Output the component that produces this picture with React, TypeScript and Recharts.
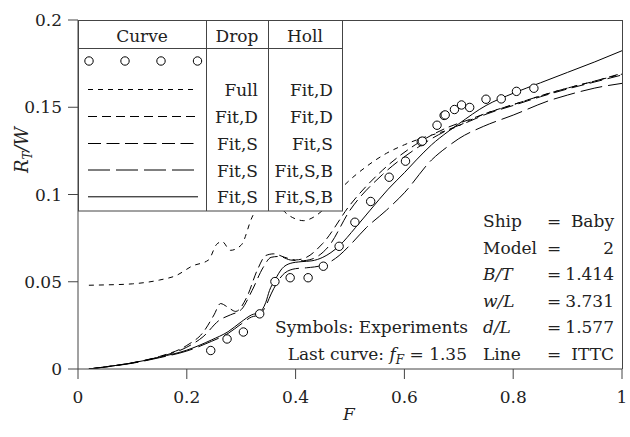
import React from 'react';
import { LineChart, Line, XAxis, YAxis } from 'recharts';

// Experiments
const expF = [0.244,0.274,0.304,0.334,0.362,0.390,0.423,0.451,0.480,0.509,0.538,0.572,0.602,0.631,0.633,0.660,0.673,0.675,0.692,0.705,0.720,0.750,0.778,0.806,0.838];
const expV = [0.0106,0.0172,0.0212,0.0316,0.0501,0.0523,0.0523,0.0589,0.0703,0.0841,0.0960,0.1099,0.1191,0.1303,0.1306,0.1397,0.1453,0.1456,0.1487,0.1513,0.1499,0.1546,0.1548,0.1591,0.1609];

// Curve A: Drop Full, Holl Fit,D
const aF = [0.02,0.05,0.1,0.15,0.18,0.21,0.24,0.255,0.265,0.28,0.30,0.32,0.34,0.36,0.38,0.40,0.415,0.43,0.45,0.487,0.53,0.567,0.60,0.629,0.66,0.69,0.72,0.75,0.80,0.85,0.90,0.95,1.0];
const aV = [0.048,0.0482,0.0488,0.051,0.0535,0.059,0.0625,0.0715,0.073,0.068,0.071,0.087,0.097,0.098,0.090,0.086,0.085,0.0865,0.091,0.1045,0.116,0.1236,0.1285,0.132,0.135,0.138,0.1425,0.1465,0.1515,0.1565,0.161,0.165,0.169];

// Curve B: Fit,D / Fit,D
const bF = [0.02,0.05,0.1,0.15,0.2,0.23,0.25,0.262,0.275,0.29,0.31,0.33,0.345,0.36,0.38,0.40,0.42,0.45,0.50,0.56,0.62,0.68,0.72,0.75,0.80,0.85,0.90,0.95,1.0];
const bV = [0,0.0012,0.0036,0.0072,0.0135,0.021,0.031,0.0375,0.0355,0.033,0.041,0.057,0.065,0.066,0.064,0.0625,0.064,0.072,0.094,0.114,0.1285,0.1385,0.143,0.1465,0.1515,0.1565,0.161,0.165,0.1695];

// Curve C: Fit,S / Fit,S
const cF = [0.02,0.05,0.1,0.15,0.2,0.23,0.26,0.28,0.30,0.32,0.34,0.355,0.37,0.39,0.41,0.43,0.46,0.50,0.56,0.62,0.68,0.72,0.75,0.80,0.85,0.90,0.95,1.0];
const cV = [0,0.0012,0.0035,0.007,0.0125,0.0185,0.028,0.031,0.034,0.045,0.058,0.064,0.0645,0.0625,0.062,0.063,0.070,0.091,0.1115,0.126,0.137,0.142,0.146,0.151,0.156,0.1605,0.1645,0.1685];

// Curve D: Fit,S / Fit,S,B
const dF = [0.02,0.05,0.1,0.15,0.2,0.245,0.276,0.30,0.319,0.334,0.345,0.355,0.365,0.38,0.40,0.42,0.45,0.48,0.50,0.53,0.567,0.60,0.65,0.684,0.70,0.745,0.80,0.868,0.90,0.95,1.0];
const dV = [0,0.0011,0.0033,0.0065,0.0103,0.0158,0.0204,0.0258,0.0298,0.031,0.036,0.043,0.049,0.055,0.0575,0.058,0.0595,0.065,0.071,0.081,0.091,0.101,0.1198,0.1285,0.132,0.139,0.1455,0.154,0.157,0.161,0.1637];

// Curve E: Fit,S / Fit,S,B, f_F = 1.35
const eF = [0.02,0.05,0.1,0.15,0.2,0.245,0.276,0.30,0.319,0.334,0.345,0.352,0.362,0.375,0.39,0.41,0.43,0.45,0.48,0.51,0.537,0.57,0.60,0.622,0.65,0.68,0.70,0.75,0.80,0.85,0.90,0.95,1.0];
const eV = [0,0.0012,0.0035,0.0068,0.0108,0.0166,0.0214,0.027,0.031,0.0325,0.038,0.045,0.051,0.0575,0.0605,0.0615,0.062,0.064,0.0705,0.081,0.091,0.103,0.1125,0.1198,0.1285,0.136,0.1405,0.151,0.158,0.164,0.170,0.176,0.1824];

const xTicks = [0, 0.2, 0.4, 0.6, 0.8, 1];
const yTicks = [0, 0.05, 0.1, 0.15, 0.2];

const dropCol = ['Full', 'Fit,D', 'Fit,S', 'Fit,S', 'Fit,S'];
const hollCol = ['Fit,D', 'Fit,D', 'Fit,S', 'Fit,S,B', 'Fit,S,B'];
const dashes = ['5 5', '9 5', '13 5.5', '22 6', undefined];

const infoLabels = ['Ship', 'Model', 'B/T', 'w/L', 'd/L', 'Line'];
const infoItalic = [false, false, true, true, true, false];
const infoValues = ['Baby', '2', '1.414', '3.731', '1.577', 'ITTC'];

const zip = (f: number[], v: number[]) => f.map((x, i) => ({ F: x, v: v[i] }));

const FONT = "'DejaVu Serif', serif";
const FS = 17;
const INK = '#222';
const FRAME = '#444';

export default function App() {
  const curves = [zip(aF, aV), zip(bF, bV), zip(cF, cV), zip(dF, dV), zip(eF, eV)];
  const exp = zip(expF, expV);
  const rowY = [96, 123, 150, 176.5, 203.3];
  return (
    <div style={{ position: 'absolute', left: 0, top: 0, width: 630, height: 437, background: '#fff', fontFamily: FONT }}>
      <LineChart width={630} height={437} margin={{ top: 20, right: 8, bottom: 0, left: 18 }}>
        <XAxis
          type="number"
          dataKey="F"
          domain={[0, 1]}
          ticks={xTicks}
          allowDataOverflow
          tickSize={10}
          tickMargin={12}
          height={68}
          stroke={FRAME}
          tick={{ fontSize: FS, fill: INK, fontFamily: FONT }}
        />
        <YAxis
          type="number"
          dataKey="v"
          domain={[0, 0.2]}
          ticks={yTicks}
          allowDataOverflow
          tickSize={10}
          tickMargin={6}
          width={60}
          stroke={FRAME}
          tick={{ fontSize: FS, fill: INK, fontFamily: FONT }}
        />
        {curves.map((d, i) => (
          <Line
            key={i}
            data={d}
            dataKey="v"
            type="monotone"
            stroke="#000"
            strokeWidth={1}
            strokeDasharray={dashes[i]}
            dot={false}
            isAnimationActive={false}
          />
        ))}
        <Line
          data={exp}
          dataKey="v"
          stroke="none"
          dot={{ r: 4.2, fill: '#fff', stroke: '#000', strokeWidth: 1 }}
          isAnimationActive={false}
        />
      </LineChart>
      <svg width={630} height={437} style={{ position: 'absolute', left: 0, top: 0, pointerEvents: 'none' }} fontFamily={FONT} fontSize={FS} fill={INK}>
        {/* frame top/right */}
        <line x1={78} y1={20.5} x2={622.5} y2={20.5} stroke={FRAME} />
        <line x1={622.5} y1={20} x2={622.5} y2={369} stroke={FRAME} />
        {/* table */}
        <rect x={78.5} y={20.5} width={264} height={190.5} fill="#fff" stroke={FRAME} />
        <line x1={206.5} y1={20} x2={206.5} y2={211} stroke={FRAME} />
        <line x1={268.5} y1={20} x2={268.5} y2={211} stroke={FRAME} />
        <line x1={78} y1={48.5} x2={342} y2={48.5} stroke={FRAME} />
        <text x={142} y={41.5} textAnchor="middle">Curve</text>
        <text x={237} y={41.5} textAnchor="middle">Drop</text>
        <text x={305} y={41.5} textAnchor="middle">Holl</text>
        {[89, 125, 161, 197.5].map((cx, i) => (
          <circle key={i} cx={cx} cy={61} r={4.2} fill="#fff" stroke="#000" />
        ))}
        {rowY.map((by, i) => (
          <g key={i}>
            <line x1={88} y1={by - 6.5} x2={198} y2={by - 6.5} stroke="#000" strokeDasharray={dashes[i]} />
            <text x={258} y={by} textAnchor="end">{dropCol[i]}</text>
            <text x={333} y={by} textAnchor="end">{hollCol[i]}</text>
          </g>
        ))}
        {/* info block */}
        {infoLabels.map((l, i) => {
          const by = 227 + i * 26.5;
          return (
            <g key={l}>
              <text x={483} y={by} fontStyle={infoItalic[i] ? 'italic' : 'normal'}>{l}</text>
              <text x={547} y={by}>=</text>
              <text x={614} y={by} textAnchor="end">{infoValues[i]}</text>
            </g>
          );
        })}
        <text x={468} y={333} textAnchor="end">Symbols: Experiments</text>
        <text x={467} y={359.5} textAnchor="end">
          Last curve: <tspan fontStyle="italic">f</tspan>
          <tspan dy={4} fontSize={12} fontStyle="italic">F</tspan>
          <tspan dy={-4}> = 1.35</tspan>
        </text>
        {/* axis labels */}
        <text x={349} y={420} textAnchor="middle" fontStyle="italic">F</text>
        <text transform="rotate(-90)" x={-150} y={28} textAnchor="middle" fontSize={18}>
          <tspan fontStyle="italic">R</tspan>
          <tspan dy={4} fontSize={12} fontStyle="italic">T</tspan>
          <tspan dy={-4} fontStyle="italic">/W</tspan>
        </text>
      </svg>
    </div>
  );
}
